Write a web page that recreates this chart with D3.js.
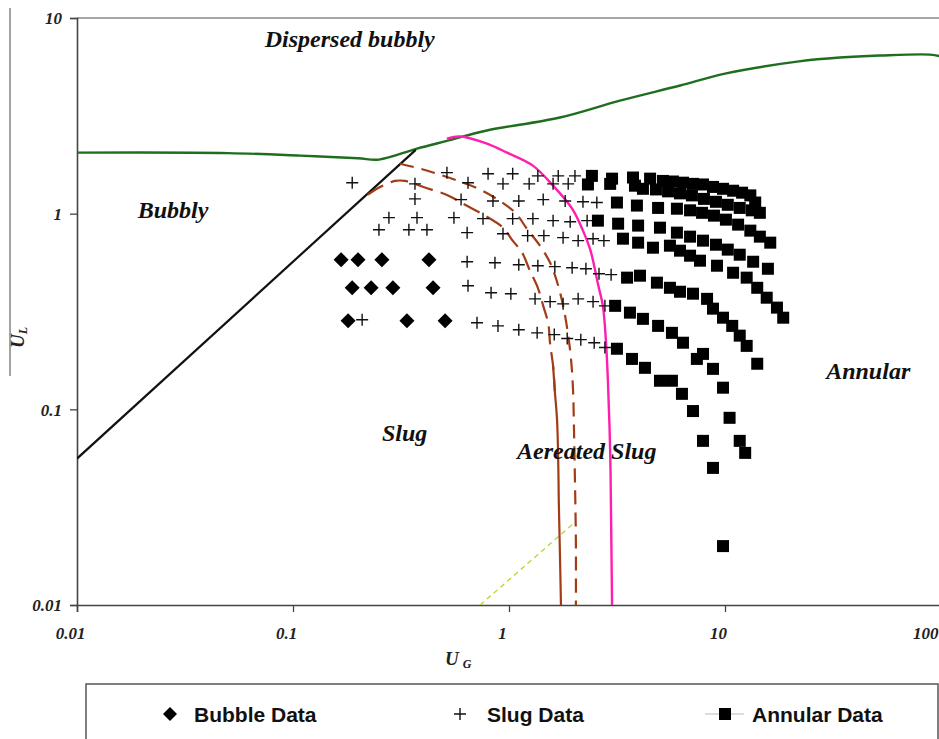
<!DOCTYPE html>
<html>
<head>
<meta charset="utf-8">
<script src="https://cdn.jsdelivr.net/npm/d3@7"></script>
<style>
  body { margin: 0; background: #fff; }
  svg { display: block; }
  .serif { font-family: "Liberation Serif", "Times New Roman", serif; font-weight: bold; font-style: italic; }
  .sans { font-family: "Liberation Sans", Arial, sans-serif; font-weight: bold; }
</style>
</head>
<body>
<svg id="chart" width="939" height="739"></svg>
<script>
// transition boundaries, [U_G, U_L]
const dispersedBoundary = [[0.01, 2.05], [0.05, 2.04], [0.108, 1.98], [0.2, 1.92], [0.25, 1.89], [0.375, 2.15],
  [0.52, 2.36], [0.79, 2.66], [1.72, 3.1], [3.26, 3.78], [6.2, 4.52], [10, 5.2], [22, 6.0], [34, 6.28],
  [52, 6.43], [89, 6.5], [100, 6.36]];
const bubblySlugBoundary = [[0.01, 0.056], [0.37, 2.12]];
const slugBoundaryTop = [[0.222, 1.25], [0.253, 1.37], [0.297, 1.47], [0.33, 1.47], [0.408, 1.36], [0.522, 1.24],
  [0.626, 1.11], [0.774, 0.977], [0.938, 0.848], [1.04, 0.728], [1.15, 0.632], [1.25, 0.511], [1.36, 0.418],
  [1.44, 0.338], [1.52, 0.274], [1.55, 0.216], [1.6, 0.167], [1.63, 0.124]];
const slugBoundaryBottom = [[1.6, 0.167], [1.63, 0.124], [1.67, 0.0873], [1.69, 0.0545], [1.7, 0.034],
  [1.72, 0.0189], [1.74, 0.01]];
const aeratedBoundary = [[0.313, 1.8], [0.387, 1.7], [0.48, 1.58], [0.593, 1.46], [0.734, 1.33], [0.909, 1.16],
  [1.07, 1.01], [1.21, 0.838], [1.39, 0.686], [1.55, 0.561], [1.69, 0.428], [1.8, 0.319], [1.88, 0.238],
  [1.94, 0.177], [1.98, 0.124], [2.0, 0.0776], [2.02, 0.0431], [2.04, 0.0212], [2.04, 0.01]];
const annularBoundary = [[0.516, 2.42], [0.593, 2.48], [0.791, 2.28], [0.979, 2.05], [1.29, 1.76], [1.6, 1.39],
  [1.96, 1.06], [2.2, 0.819], [2.37, 0.662], [2.45, 0.575], [2.58, 0.438], [2.72, 0.338], [2.81, 0.224],
  [2.87, 0.14], [2.94, 0.0613], [2.97, 0.0269], [3.0, 0.01]];
const guideLine = [[0.735, 0.01], [1.98, 0.026]];

// measured points
const bubbleData = [[0.167, 0.582], [0.2, 0.582], [0.258, 0.582], [0.426, 0.582],
  [0.188, 0.418], [0.23, 0.418], [0.29, 0.418], [0.445, 0.418],
  [0.18, 0.284], [0.337, 0.284], [0.506, 0.284]];

const slugData = [
  [0.516, 1.62], [0.8, 1.6], [1.04, 1.6], [1.36, 1.56], [1.69, 1.56], [2.02, 1.56],
  [0.188, 1.44], [0.367, 1.42], [0.646, 1.44], [0.938, 1.42], [1.24, 1.42], [1.6, 1.42], [1.88, 1.42],
  [0.367, 1.19], [0.6, 1.18], [0.843, 1.16], [1.11, 1.16], [1.44, 1.18], [1.82, 1.16], [2.2, 1.15], [2.55, 1.14],
  [0.278, 0.954], [0.375, 0.954], [0.556, 0.954], [0.758, 0.943], [1.04, 0.943], [1.29, 0.943], [1.6, 0.921],
  [1.92, 0.91], [2.3, 0.921],
  [0.25, 0.828], [0.344, 0.828], [0.417, 0.828], [0.64, 0.8], [0.938, 0.79], [1.22, 0.772], [1.45, 0.772],
  [1.78, 0.754], [2.09, 0.728], [2.45, 0.745], [2.75, 0.728],
  [0.64, 0.568], [0.861, 0.561], [1.11, 0.548], [1.36, 0.542], [1.63, 0.536], [1.96, 0.529], [2.27, 0.523],
  [2.61, 0.493], [2.97, 0.488],
  [0.646, 0.428], [0.826, 0.394], [1.02, 0.39], [1.32, 0.367], [1.55, 0.355], [1.78, 0.346], [2.09, 0.367],
  [2.45, 0.355], [2.78, 0.338],
  [0.209, 0.287], [0.711, 0.277], [0.889, 0.267], [1.11, 0.255], [1.35, 0.246], [1.62, 0.241], [1.86, 0.23],
  [2.15, 0.227], [2.48, 0.219], [2.78, 0.207]
];

const annularData = [
  [2.42, 1.56], [3.0, 1.51], [3.75, 1.53], [4.5, 1.51], [5.16, 1.47], [5.74, 1.46], [6.39, 1.44], [7.11, 1.42],
  [7.91, 1.41], [8.8, 1.37], [9.79, 1.34], [10.9, 1.31], [12.0, 1.28], [13.1, 1.24], [13.8, 1.14],
  [2.32, 1.41], [2.94, 1.42], [3.83, 1.39], [4.17, 1.34], [4.79, 1.33], [5.45, 1.3], [6.19, 1.27], [7.03, 1.24],
  [7.99, 1.19], [9.08, 1.15], [10.3, 1.11], [11.7, 1.07], [13.3, 1.04], [14.5, 1.01],
  [3.16, 1.14], [3.91, 1.1], [4.9, 1.07], [5.99, 1.06], [6.89, 1.04], [7.83, 1.01], [8.89, 0.977], [10.1, 0.932],
  [11.5, 0.879], [13.1, 0.819], [14.5, 0.763], [16.2, 0.711],
  [2.58, 0.921], [3.2, 0.889], [3.96, 0.869], [5.0, 0.848], [5.99, 0.8], [6.89, 0.763], [7.91, 0.728],
  [9.08, 0.694], [10.3, 0.655], [11.7, 0.617], [13.5, 0.568], [15.8, 0.523],
  [3.37, 0.745], [3.96, 0.711], [4.64, 0.67], [5.56, 0.686], [6.19, 0.647], [6.89, 0.61], [7.66, 0.575],
  [9.18, 0.542], [10.9, 0.499], [12.6, 0.471], [14.1, 0.418], [15.6, 0.372], [17.4, 0.331], [18.6, 0.294],
  [3.52, 0.471], [4.04, 0.482], [4.84, 0.444], [5.56, 0.418], [6.19, 0.399], [7.11, 0.39], [8.26, 0.367],
  [8.8, 0.327], [9.79, 0.294], [10.8, 0.267], [11.7, 0.238], [12.6, 0.211], [14.1, 0.171],
  [3.1, 0.338], [3.63, 0.312], [4.17, 0.29], [4.9, 0.267], [5.68, 0.246], [6.39, 0.219], [7.41, 0.181],
  [7.91, 0.192], [8.8, 0.161], [9.79, 0.129], [10.5, 0.0905], [11.7, 0.069], [12.4, 0.0599],
  [3.16, 0.204], [3.71, 0.181], [4.26, 0.163], [5.0, 0.14], [5.68, 0.14], [6.32, 0.12], [7.11, 0.098],
  [7.91, 0.069], [8.8, 0.0502], [9.79, 0.02]
];

const xTicks = [0.01, 0.1, 1, 10, 100];
const yTicks = [0.01, 0.1, 1, 10];
const regionNames = ["Dispersed bubbly", "Bubbly", "Slug", "Aereated Slug", "Annular"];
const regionAnchors = [[0.074, 7.07], [0.0191, 0.954], [0.258, 0.069], [1.09, 0.0558], [29.4, 0.143]];
const legendNames = ["Bubble Data", "Slug Data", "Annular Data"];

const width = 939, height = 739;
const margin = { top: 18, right: -2, bottom: 134, left: 77 };

const svg = d3.select("#chart");

const x = d3.scaleLog().domain([0.01, 100]).range([margin.left, width - margin.right]);
const y = d3.scaleLog().domain([0.01, 10]).range([height - margin.bottom, margin.top]);

const minorOf = (ticks) => ticks.slice(0, -1).flatMap(t => d3.range(2, 10).map(k => +(t * k).toPrecision(3)));

svg.append("defs").append("clipPath").attr("id", "plot")
  .append("rect")
  .attr("x", margin.left).attr("y", margin.top)
  .attr("width", width - margin.left).attr("height", y(0.01) - margin.top);

// odd frame line left of the y title
svg.append("line")
  .attr("x1", 10).attr("x2", 10).attr("y1", 8).attr("y2", 376)
  .attr("stroke", "#666").attr("stroke-width", 1.2);

// top frame
svg.append("line")
  .attr("x1", margin.left).attr("x2", width).attr("y1", y(10)).attr("y2", y(10))
  .attr("stroke", "#888").attr("stroke-width", 1.5);

// axes
const fmt = d => String(d);
const gy = svg.append("g").attr("transform", `translate(${margin.left},0)`);
gy.call(d3.axisLeft(y).tickValues(minorOf(yTicks)).tickSize(5).tickFormat(""));
gy.call(d3.axisLeft(y).tickValues(yTicks).tickSize(7).tickPadding(8).tickFormat(fmt));

const gx = svg.append("g").attr("transform", `translate(0,${y(0.01)})`);
gx.call(d3.axisBottom(x).tickValues(minorOf(xTicks)).tickSize(4).tickFormat(""));
gx.call(d3.axisBottom(x).tickValues(xTicks).tickSize(7).tickFormat(fmt));

[gx, gy].forEach(g => {
  g.selectAll(".domain").attr("stroke", "#444").attr("stroke-width", 1.6);
  g.selectAll(".tick line").attr("stroke", "#444").attr("stroke-width", 1.3);
  g.selectAll("text").attr("class", "serif").attr("font-size", 17).attr("fill", "#222");
});
gy.selectAll(".tick text").attr("dy", "0.34em");
gx.selectAll(".tick text").attr("y", 28).attr("dy", "0.34em").attr("dx", -7);
gx.selectAll(".tick text").filter(d => d === 100).attr("text-anchor", "end").attr("dx", -3);

// axis titles
const xt = svg.append("text").attr("class", "serif").attr("font-size", 19).attr("fill", "#222")
  .attr("x", 445).attr("y", 665);
xt.append("tspan").text("U");
xt.append("tspan").attr("font-size", 12).attr("dx", 4).attr("dy", 3).text("G");

const yt = svg.append("text").attr("class", "serif").attr("font-size", 19).attr("fill", "#222")
  .attr("transform", "translate(24,348) rotate(-90)");
yt.append("tspan").text("U");
yt.append("tspan").attr("font-size", 12).attr("dy", 3).text("L");

// boundaries
const line = d3.line().x(d => x(d[0])).y(d => y(d[1])).curve(d3.curveCatmullRom.alpha(0.5));
const curves = svg.append("g").attr("clip-path", "url(#plot)").attr("fill", "none");

curves.append("path").attr("d", line(guideLine))
  .attr("stroke", "#b4d436").attr("stroke-width", 1.3).attr("stroke-dasharray", "5,4");
curves.append("path").attr("d", line(dispersedBoundary))
  .attr("stroke", "#1f6e1f").attr("stroke-width", 2.4);
curves.append("path").attr("d", line(bubblySlugBoundary))
  .attr("stroke", "#111").attr("stroke-width", 2.2);
curves.append("path").attr("d", line(slugBoundaryTop))
  .attr("stroke", "#a23c16").attr("stroke-width", 2.2).attr("stroke-dasharray", "18,8");
curves.append("path").attr("d", line(slugBoundaryBottom))
  .attr("stroke", "#a23c16").attr("stroke-width", 2.2);
curves.append("path").attr("d", line(aeratedBoundary))
  .attr("stroke", "#a23c16").attr("stroke-width", 2.2).attr("stroke-dasharray", "14,8");
curves.append("path").attr("d", line(annularBoundary))
  .attr("stroke", "#ff1fae").attr("stroke-width", 2.4);

// markers
const diamond = "M0,-7.5L7.5,0L0,7.5L-7.5,0Z";
const plus = "M-6,0H6M0,-6V6";

const marks = svg.append("g").attr("clip-path", "url(#plot)");
marks.selectAll(".bubble").data(bubbleData).join("path")
  .attr("class", "bubble")
  .attr("transform", d => `translate(${x(d[0])},${y(d[1])})`)
  .attr("d", diamond).attr("fill", "#000");

marks.selectAll(".slug").data(slugData).join("path")
  .attr("class", "slug")
  .attr("transform", d => `translate(${x(d[0])},${y(d[1])})`)
  .attr("d", plus).attr("stroke", "#111").attr("stroke-width", 1.4).attr("fill", "none");

marks.selectAll(".annular").data(annularData).join("rect")
  .attr("class", "annular")
  .attr("x", d => x(d[0]) - 6).attr("y", d => y(d[1]) - 6)
  .attr("width", 12).attr("height", 12).attr("fill", "#000");

// region names
svg.append("g").selectAll("text").data(regionNames).join("text")
  .attr("class", "serif").attr("font-size", 24).attr("fill", "#111")
  .attr("x", (d, i) => x(regionAnchors[i][0]))
  .attr("y", (d, i) => y(regionAnchors[i][1]))
  .text(d => d);

// legend
const lg = svg.append("g");
lg.append("rect").attr("x", 86).attr("y", 684).attr("width", 852).attr("height", 80)
  .attr("fill", "#fff").attr("stroke", "#555").attr("stroke-width", 1.5);

const ly = 714;
lg.append("path").attr("transform", `translate(170,${ly})`).attr("d", "M0,-7L7,0L0,7L-7,0Z").attr("fill", "#000");
lg.append("path").attr("transform", `translate(460,${ly})`).attr("d", plus)
  .attr("stroke", "#111").attr("stroke-width", 1.4);
lg.append("line").attr("x1", 705).attr("x2", 744).attr("y1", ly).attr("y2", ly)
  .attr("stroke", "#bbb").attr("stroke-width", 1.2);
lg.append("rect").attr("x", 719).attr("y", ly - 6).attr("width", 12).attr("height", 12).attr("fill", "#000");

lg.selectAll(".lt").data(legendNames).join("text")
  .attr("class", "lt sans").attr("font-size", 21).attr("fill", "#111")
  .attr("x", (d, i) => [194, 487, 752][i]).attr("y", ly).attr("dy", "0.36em")
  .text(d => d);
</script>
</body>
</html>
